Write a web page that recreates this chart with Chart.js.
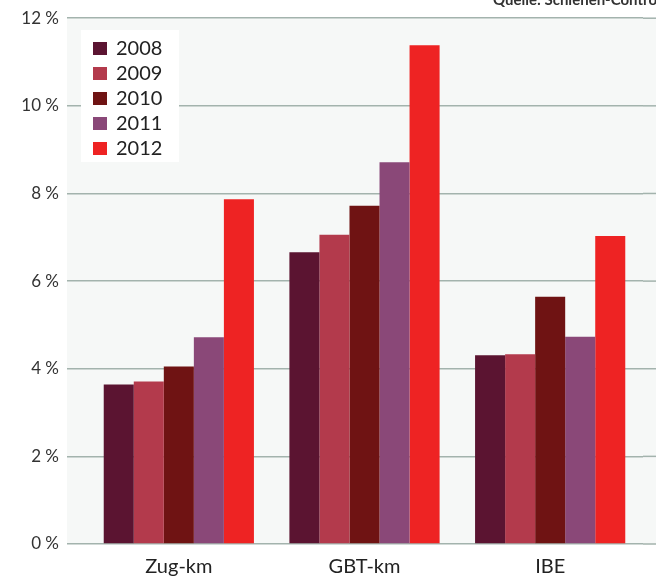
<!DOCTYPE html>
<html>
<head>
<meta charset="utf-8">
<script src="https://cdn.jsdelivr.net/npm/chart.js@4/dist/chart.umd.min.js"></script>
<style>
  html, body { margin: 0; padding: 0; background: #ffffff; overflow: hidden; }
  canvas { display: block; }
</style>
</head>
<body>
<canvas id="chart" width="656" height="577"></canvas>
<script>
const categories = ["Zug-km", "GBT-km", "IBE"];
const years = ["2008", "2009", "2010", "2011", "2012"];

const values2008 = [3.64, 6.66, 4.31];
const values2009 = [3.71, 7.06, 4.33];
const values2010 = [4.05, 7.72, 5.64];
const values2011 = [4.72, 8.71, 4.73];
const values2012 = [7.87, 11.38, 7.03];

const yearColors = ["#5b1431", "#b33a4c", "#6f1313", "#8a4878", "#ee2323"];
const yTicks = [0, 2, 4, 6, 8, 10, 12];

const FONT = "Lato, 'Open Sans', sans-serif";
const GRID_COLOR = "#a3b3ad";

// light plot background
const plotBackground = {
    id: "plotBackground",
    beforeDraw(chart) {
        const { ctx, chartArea, width } = chart;
        ctx.save();
        ctx.fillStyle = "#f6f8f7";
        ctx.fillRect(chartArea.left - 19, chartArea.top, width - chartArea.left + 19, chartArea.bottom - chartArea.top);
        ctx.restore();
    }
};

// carry the horizontal grid lines on to the right edge
const gridToEdge = {
    id: "gridToEdge",
    beforeDatasetsDraw(chart) {
        const { ctx, chartArea, width } = chart;
        const y = chart.scales.y;
        ctx.save();
        ctx.strokeStyle = GRID_COLOR;
        ctx.lineWidth = 1.5;
        y.ticks.forEach(t => {
            const py = y.getPixelForValue(t.value);
            ctx.beginPath();
            ctx.moveTo(chartArea.right, py);
            ctx.lineTo(width, py);
            ctx.stroke();
        });
        ctx.restore();
    }
};

// legend box in the top-left corner of the plot
const cornerLegend = {
    id: "cornerLegend",
    afterDatasetsDraw(chart) {
        const { ctx } = chart;
        ctx.save();
        ctx.fillStyle = "#ffffff";
        ctx.fillRect(81, 30, 98, 132);
        ctx.font = "20px " + FONT;
        ctx.textBaseline = "middle";
        chart.data.datasets.forEach((ds, i) => {
            const y = 48 + i * 25;
            ctx.fillStyle = ds.backgroundColor;
            ctx.fillRect(93, y - 6, 14, 13);
            ctx.fillStyle = "#222222";
            ctx.fillText(ds.label, 116, y + 1);
        });
        // source note, cut off at the top edge
        ctx.font = "bold 15px " + FONT;
        ctx.textBaseline = "alphabetic";
        ctx.fillStyle = "#333333";
        ctx.fillText("Quelle: Schienen-Control", 493, 5);
        ctx.restore();
    }
};

const seriesValues = [values2008, values2009, values2010, values2011, values2012];

new Chart(document.getElementById("chart"), {
    type: "bar",
    data: {
        labels: categories,
        datasets: years.map((year, i) => ({
            label: year,
            data: seriesValues[i],
            backgroundColor: yearColors[i],
            borderWidth: 0,
            barPercentage: 1.0,
            categoryPercentage: 0.809
        }))
    },
    options: {
        responsive: false,
        animation: false,
        layout: {
            padding: { top: 16, right: 13, bottom: 0, left: 0 }
        },
        scales: {
            x: {
                grid: { display: false },
                border: { display: false },
                ticks: {
                    color: "#222222",
                    font: { family: FONT, size: 20 },
                    padding: 3
                },
                afterFit(scale) {
                    scale.height = 33;
                }
            },
            y: {
                min: 0,
                max: 12,
                afterBuildTicks(scale) {
                    scale.ticks = yTicks.map(v => ({ value: v }));
                },
                grid: {
                    color: GRID_COLOR,
                    lineWidth: 1.5,
                    drawTicks: true,
                    tickLength: 19
                },
                border: { display: false },
                ticks: {
                    color: "#333333",
                    font: { family: FONT, size: 17 },
                    padding: 8,
                    callback: function(value) {
                        return value + " %";
                    }
                },
                afterFit(scale) {
                    scale.width = 86;
                }
            }
        },
        plugins: {
            legend: { display: false },
            tooltip: { enabled: false }
        }
    },
    plugins: [plotBackground, gridToEdge, cornerLegend]
});
</script>
</body>
</html>
